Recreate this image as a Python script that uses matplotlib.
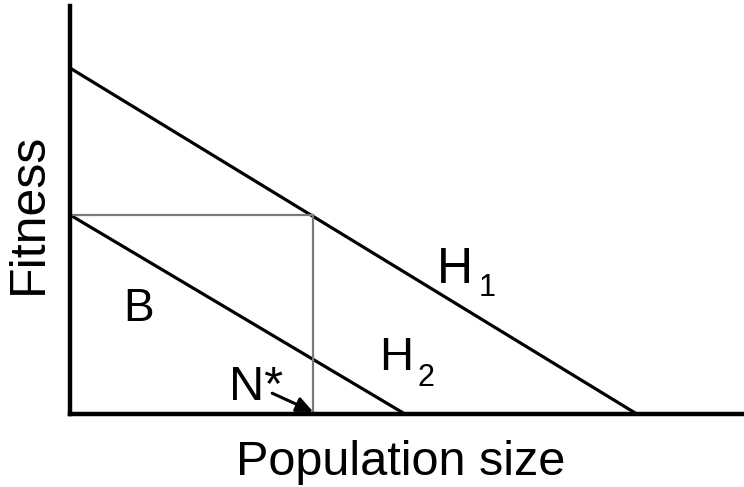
import matplotlib.pyplot as plt

plt.rcParams['font.family'] = ['Liberation Sans', 'DejaVu Sans']

# habitat lines (fitness vs population size)
h1_x = [0, 8.41]
h1_y = [8.48, 0]
h2_x = [0, 4.97]
h2_y = [4.88, 0]
# equilibrium point
n_star = 3.61
fit_star = 4.88

fig = plt.figure(figsize=(7.44, 4.87), dpi=100)
ax = fig.add_axes([70 / 744, 73 / 487, 674 / 744, 408 / 487])
ax.set_xlim(0, 10)
ax.set_ylim(0, 10)

ax.plot(h1_x, h1_y, color='black', lw=2.3, solid_capstyle='butt')
ax.plot(h2_x, h2_y, color='black', lw=2.3, solid_capstyle='butt')
ax.plot([0, n_star], [fit_star, fit_star], color='#7a7a7a', lw=1.6)
ax.plot([n_star, n_star], [fit_star, 0], color='#7a7a7a', lw=1.6)

ax.annotate('', xy=(n_star, 0.05), xytext=(3.0, 0.51),
            arrowprops=dict(arrowstyle='-|>,head_length=1.0,head_width=0.45',
                            color='black', lw=2.2, shrinkA=0, shrinkB=0))

ax.text(1.01, 2.57, 'B', fontsize=33, ha='center', va='center')
ax.text(5.45, 3.21, 'H', fontsize=36, ha='left', va='baseline')
ax.text(6.06, 2.90, '1', fontsize=22, ha='left', va='baseline')
ax.text(4.58, 1.08, 'H', fontsize=34, ha='left', va='baseline')
ax.text(5.15, 0.68, '2', fontsize=22, ha='left', va='baseline')
ax.text(2.36, 0.34, 'N*', fontsize=35, ha='left', va='baseline')

for s in ['top', 'right']:
    ax.spines[s].set_visible(False)
for s in ['left', 'bottom']:
    ax.spines[s].set_linewidth(3.2)
ax.set_xticks([])
ax.set_yticks([])

fig.text(29 / 744, 1 - 213 / 487, 'Fitness', fontsize=36, rotation=90,
         ha='center', va='center')
fig.text(401 / 744, 1 - 475 / 487, 'Population size', fontsize=35,
         ha='center', va='baseline')

fig.savefig('out.png', dpi=100)
